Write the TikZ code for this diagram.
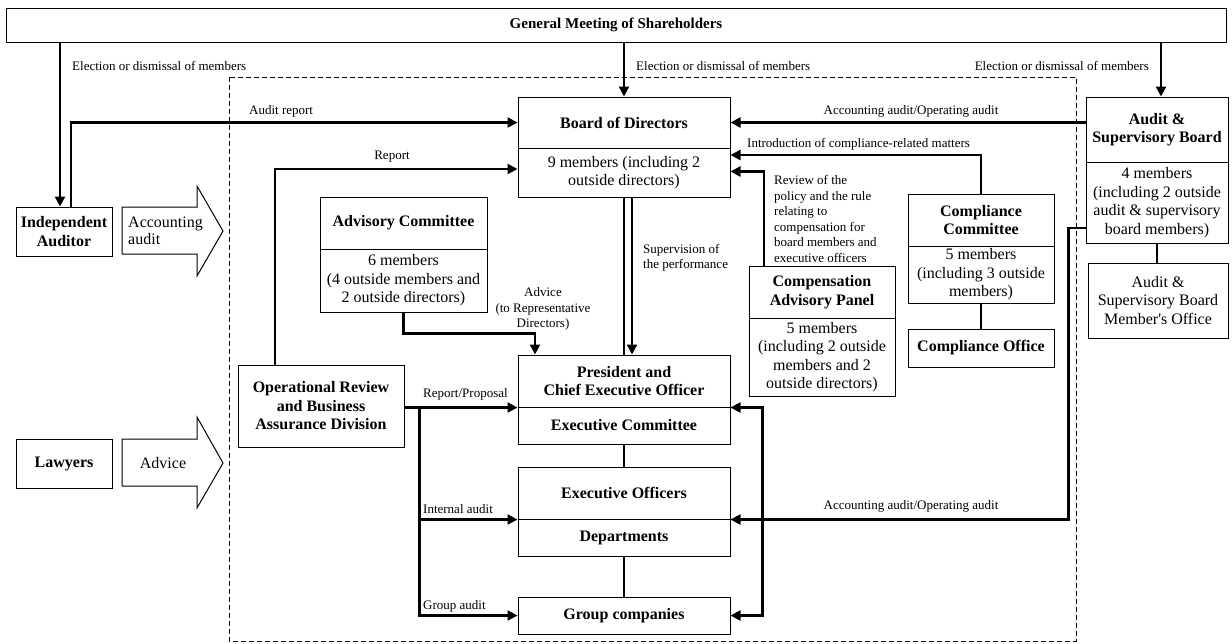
\documentclass[tikz,border=0pt]{standalone}
\usepackage{fontspec}
\setmainfont{Liberation Serif}
\usetikzlibrary{arrows.meta,calc}
\begin{document}
\begin{tikzpicture}[x=1pt,y=-1pt,
  box/.style={draw,line width=1pt,inner sep=2pt,align=center,font=\fontsize{16}{18.5}\selectfont},
  bbox/.style={box,font=\fontsize{16}{18.5}\selectfont\bfseries},
  big/.style={inner sep=0pt,font=\fontsize{16}{17}\selectfont},
  lbl/.style={inner sep=0pt,font=\fontsize{13}{15.5}\selectfont},
  tip/.style={-{Triangle[length=10pt,width=10pt]}},
  arr/.style={line width=2.4pt,tip},
  arrtwo/.style={line width=2.4pt,{Triangle[length=10pt,width=10pt]}-{Triangle[length=10pt,width=10pt]}},
  conn/.style={line width=2.4pt},
  blockarrow/.style={draw,line width=1pt,line join=miter},
  zone/.style={draw,line width=1pt,dash pattern=on 5pt off 3pt}
]
\useasboundingbox (0,0) rectangle (1232,643);

% dashed zone
\draw[zone] (229,77) rectangle (1076,641);

% nodes
\node[bbox,font=\fontsize{15}{17}\selectfont\bfseries,minimum width=1220pt,minimum height=34pt] (GM) at (616,25) {General Meeting of Shareholders};
\node[bbox,minimum width=96pt,minimum height=49pt] (IA) at (64,231.5) {Independent\\Auditor};
\node[bbox,minimum width=96pt,minimum height=49pt] (LW) at (64,463.5) {Lawyers};

\node[bbox,minimum width=212pt,minimum height=51pt] (Bh) at (624,122.5) {Board of Directors};
\node[box,minimum width=212pt,minimum height=49pt] (Bb) at (624,172.5) {9 members (including 2\\outside directors)};

\node[bbox,minimum width=167pt,minimum height=52pt] (Ah) at (403.5,223) {Advisory Committee};
\node[box,minimum width=167pt,minimum height=63pt] (Ab) at (403.5,280.5) {6 members\\(4 outside members and\\2 outside directors)};

\node[bbox,minimum width=212pt,minimum height=52pt] (Ph) at (624,381) {President and\\Chief Executive Officer};
\node[bbox,minimum width=212pt,minimum height=37pt] (Pb) at (624,425.5) {Executive Committee};
\node[bbox,minimum width=212pt,minimum height=52pt] (EOh) at (624,493) {Executive Officers};
\node[bbox,minimum width=212pt,minimum height=37pt] (EOb) at (624,537.5) {Departments};
\node[bbox,minimum width=212pt,minimum height=37pt] (G) at (624,615.5) {Group companies};

\node[bbox,minimum width=166pt,minimum height=82pt] (OR) at (321,406) {Operational Review\\and Business\\Assurance Division};

\node[bbox,minimum width=146pt,minimum height=52pt] (Ch) at (822,292) {Compensation\\Advisory Panel};
\node[box,minimum width=146pt,minimum height=78pt] (Cb) at (822,357) {5 members\\(including 2 outside\\members and 2\\outside directors)};

\node[bbox,minimum width=146pt,minimum height=52pt] (CCh) at (981,220) {Compliance\\Committee};
\node[box,minimum width=146pt,minimum height=57pt] (CCb) at (981,274.5) {5 members\\(including 3 outside\\members)};
\node[bbox,minimum width=146pt,minimum height=38pt] (CO) at (981,348) {Compliance Office};

\node[bbox,minimum width=142pt,minimum height=65pt] (ASBh) at (1157,129.5) {Audit \&\\Supervisory Board};
\node[box,minimum width=142pt,minimum height=81pt] (ASBb) at (1157,202.5) {4 members\\(including 2 outside\\audit \& supervisory\\board members)};
\node[box,minimum width=140pt,minimum height=75pt] (OF) at (1158,300.5) {Audit \&\\Supervisory Board\\Member\textquotesingle s Office};

% block arrows
\draw[blockarrow] (122,207) -- (197,207) -- (197,186) -- (223,231) -- (197,276) -- (197,254) -- (122,254) -- cycle;
\node[big,align=left,anchor=west] (AAt) at (128,231) {Accounting\\audit};
\draw[blockarrow] (122,439) -- (197,439) -- (197,417) -- (223,463) -- (197,508) -- (197,486) -- (122,486) -- cycle;
\node[big] (ADt) at (163,463) {Advice};

% election arrows
\coordinate (e1) at ([xshift=-4pt]IA.north);
\draw[arr] (GM.south -| e1) -- (e1);
\draw[arr] (GM.south -| Bh.north) -- (Bh.north);
\coordinate (e3) at ([xshift=4pt]ASBh.north);
\draw[arr] (GM.south -| e3) -- (e3);
\node[lbl,anchor=west] (L1) at (72,66) {Election or dismissal of members};
\node[lbl,anchor=west] (L2) at (636,66) {Election or dismissal of members};
\node[lbl,anchor=east] (L3) at (1149,66) {Election or dismissal of members};

% audit report
\draw[arr] ([xshift=7pt]IA.north) |- (Bh.west);
\node[lbl,anchor=west] (L4) at (249,111) {Audit report};

% ASB -> Board
\draw[arr] (ASBh.west |- Bh.east) -- (Bh.east);
\node[lbl] (L5) at (911,111) {Accounting audit/Operating audit};

% Report
\draw[arr] ([xshift=-46pt]OR.north) |- ([yshift=3.5pt]Bb.west);
\node[lbl] (L6) at (392,157) {Report};

% Introduction
\draw[arr] (CCh.north) |- ([yshift=17.5pt]Bb.east);
\node[lbl,anchor=west] (L7) at (747,144) {Introduction of compliance-related matters};

% Review
\draw[arr] ([xshift=-58pt]Ch.north) |- ([yshift=1pt]Bb.east);
\node[lbl,anchor=west,align=left] (L8) at (774,219) {Review of the\\policy and the rule\\relating to\\compensation for\\board members and\\executive officers};

% Supervision
\draw[conn] (Bb.south) -- (Ph.north);
\draw[arr] ([xshift=8pt]Bb.south) -- ([xshift=8pt]Ph.north);
\node[lbl,anchor=west,align=left] (L9) at (643,258) {Supervision of\\the performance};

% Advisory advice
\draw[arr] (Ab.south) -- ++(0,21) -| ([xshift=-89pt]Ph.north);
\node[lbl,align=center] (L10) at (543,309) {Advice\\(to Representative\\Directors)};

% compliance and ASB internal links
\draw[conn] (CCb.south) -- (CO.north);
\draw[conn] (ASBb.south) -- (ASBb.south |- OF.north);
\draw[conn] (Pb.south) -- (EOh.north);
\draw[conn] (EOb.south) -- (G.north);

% ASB -> Executive officers
\draw[arr] ([yshift=-25.5pt]ASBb.west) -- ++(-17,0) |- (EOh.south east);
\node[lbl] (L11) at (911,506) {Accounting audit/Operating audit};

% President <-> Group companies
\draw[arrtwo] (Ph.south east) -- ++(32,0) |- (G.east);

% Operational review
\coordinate (orstart) at (OR.east |- Ph.south west);
\draw[arr] (orstart) -- (Ph.south west);
\coordinate (br) at ($(orstart)+(15,0)$);
\draw[arr] (br) |- (EOh.south west);
\draw[arr] (br) |- (G.west);
\node[lbl,anchor=west] (L12) at (423,394) {Report/Proposal};
\node[lbl,anchor=west] (L13) at (423,509) {Internal audit};
\node[lbl,anchor=west] (L14) at (423,606) {Group audit};
\end{tikzpicture}
\end{document}
